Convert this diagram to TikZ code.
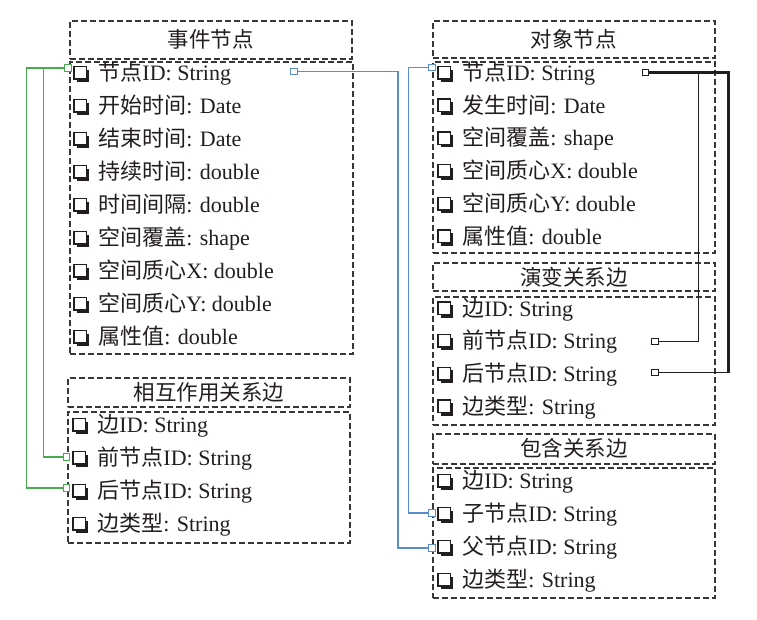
\documentclass[tikz,border=0pt]{standalone}
\usepackage{fontspec}
\setmainfont{Liberation Serif}
\newfontfamily\cjk{Noto Sans CJK SC}
\usepackage{tikz}
\usetikzlibrary{positioning}

\definecolor{linegreen}{RGB}{70,172,78}
\definecolor{lineblue}{RGB}{88,140,202}
\definecolor{boxgray}{RGB}{55,55,55}
\definecolor{txtcol}{RGB}{35,30,30}
\newcommand{\chkbox}{\tikz[baseline=0pt]{\fill (3pt,-1.5pt) rectangle (15.5pt,11pt); \draw[fill=white,line width=1.5pt] (0pt,1.5pt) rectangle (12.5pt,14pt);}}
\newcommand{\itm}[2]{\chkbox\hspace{9pt}{\cjk #1}#2}

\begin{document}
\begin{tikzpicture}[x=1pt,y=-1pt,
        box/.style={draw=boxgray, dash pattern=on 6pt off 3pt, line width=1.5pt, anchor=north west, inner sep=0pt},
        hdr/.style={box, text=txtcol, font=\cjk\fontsize{21.5}{24}\selectfont},
        item/.style={anchor=base west, inner sep=0pt, text=txtcol, font=\fontsize{22}{24}\selectfont},
        port/.style={draw, fill=white, minimum size=6.5pt, inner sep=0pt, line width=1.1pt},
        gline/.style={draw=linegreen, line width=1.4pt},
        bline/.style={draw=lineblue, line width=1.4pt},
        kline/.style={draw=txtcol, line width=1pt}]
      \useasboundingbox (0,0) rectangle (757,619);

      \node[hdr, minimum width=282, minimum height=38] (evt_h) at (69,20) {事件节点};
      \node[box, minimum width=283, minimum height=292] (evt_b) at (69,61) {};
      \node[hdr, minimum width=282, minimum height=29] (int_h) at (67,377) {相互作用关系边};
      \node[box, minimum width=282, minimum height=131] (int_b) at (67,411) {};
      \node[hdr, minimum width=282, minimum height=37] (obj_h) at (432,20) {对象节点};
      \node[box, minimum width=282, minimum height=191] (obj_b) at (432,61) {};
      \node[hdr, minimum width=282, minimum height=28] (evo_h) at (432,262) {演变关系边};
      \node[box, minimum width=282, minimum height=128] (evo_b) at (432,296) {};
      \node[hdr, minimum width=282, minimum height=30] (con_h) at (432,433) {包含关系边};
      \node[box, minimum width=282, minimum height=130] (con_b) at (432,467) {};

      \foreach \t [count=\i] in {{\itm{节点}{ID: String}}, {\itm{开始时间}{: Date}}, {\itm{结束时间}{: Date}},
          {\itm{持续时间}{: double}}, {\itm{时间间隔}{: double}}, {\itm{空间覆盖}{: shape}},
          {\itm{空间质心}{X: double}}, {\itm{空间质心}{Y: double}}, {\itm{属性值}{: double}}}
        \node[item] (evt_\i) at (73, {73+33*(\i-1)+7.5}) {\t};
      \foreach \t [count=\i] in {{\itm{边}{ID: String}}, {\itm{前节点}{ID: String}},
          {\itm{后节点}{ID: String}}, {\itm{边类型}{: String}}}
        \node[item] (int_\i) at (72, {425+33*(\i-1)+7.5}) {\t};
      \foreach \t [count=\i] in {{\itm{节点}{ID: String}}, {\itm{发生时间}{: Date}}, {\itm{空间覆盖}{: shape}},
          {\itm{空间质心}{X: double}}, {\itm{空间质心}{Y: double}}, {\itm{属性值}{: double}}}
        \node[item] (obj_\i) at (437, {73+32.7*(\i-1)+7.5}) {\t};
      \foreach \t [count=\i] in {{\itm{边}{ID: String}}, {\itm{前节点}{ID: String}},
          {\itm{后节点}{ID: String}}, {\itm{边类型}{: String}}}
        \node[item] (evo_\i) at (437, {308.5+32.7*(\i-1)+7.5}) {\t};
      \foreach \t [count=\i] in {{\itm{边}{ID: String}}, {\itm{子节点}{ID: String}},
          {\itm{父节点}{ID: String}}, {\itm{边类型}{: String}}}
        \node[item] (con_\i) at (437, {481+33*(\i-1)+7.5}) {\t};

      \node[port, draw=linegreen] (evt_gp) at (68,68) {};
      \node[port, draw=linegreen] (int_gp2) at (66.5,457) {};
      \node[port, draw=linegreen] (int_gp3) at (66.5,488) {};
      \node[port, draw=lineblue] (evt_bp) at (294,71.5) {};
      \node[port, draw=lineblue] (obj_bp) at (432,67.5) {};
      \node[port, draw=lineblue] (con_bp2) at (432,513) {};
      \node[port, draw=lineblue] (con_bp3) at (432,548) {};
      \node[port, draw=txtcol] (obj_kp) at (645.5,72.5) {};
      \node[port, draw=txtcol] (evo_kp2) at (655,341.5) {};
      \node[port, draw=txtcol] (evo_kp3) at (655,372.5) {};

      \draw[gline] (evt_gp.west) -- ++(-38,0) |- (int_gp3.west);
      \draw[gline] (evt_gp.west) ++(-21,0) |- (int_gp2.west);
      \draw[bline] (evt_bp.east) -- ++(100,0) |- (con_bp3.west);
      \draw[bline] (obj_bp.west) -- ++(-20,0) |- (con_bp2.west);
      \draw[kline] (evo_kp2.east) -- ++(40,0) |- (obj_kp.east);
      \draw[kline, line width=2.6pt] (obj_kp.east) -- ++(79,0) coordinate (k_c) -- (k_c |- evo_kp3.east);
      \draw[kline] (k_c |- evo_kp3.east) -- (evo_kp3.east);
\end{tikzpicture}
\end{document}
